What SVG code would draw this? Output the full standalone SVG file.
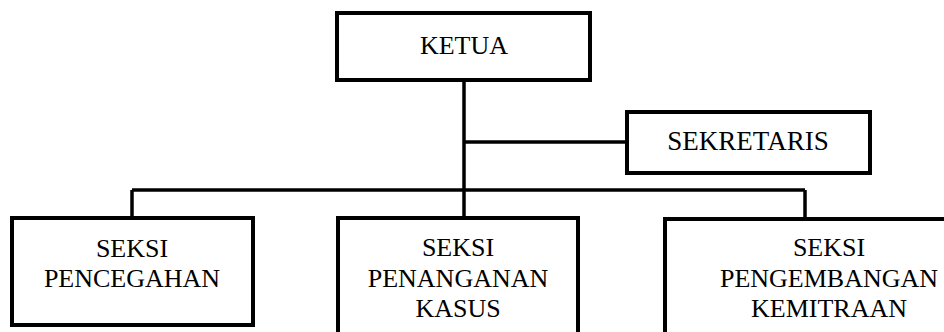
<svg xmlns="http://www.w3.org/2000/svg" width="944" height="332" viewBox="0 0 944 332">
<style>
.box{fill:#fff;stroke:#000;stroke-width:4}
.ln{fill:none;stroke:#000;stroke-width:3.5}
text{font-family:"Liberation Serif","Times New Roman",serif;font-size:26px;fill:#000;text-anchor:middle}
</style>
<rect width="944" height="332" fill="#fff"/>
<g id="connectors">
<path class="ln" d="M464 80 V218"/>
<path class="ln" d="M464 142 H627"/>
<path class="ln" d="M132 190 H805"/>
<path class="ln" d="M132 190 V218"/>
<path class="ln" d="M805 190 V219"/>
</g>
<g id="ketua">
<rect class="box" x="337" y="13" width="253" height="67"/>
<text x="464" y="54">KETUA</text>
</g>
<g id="sekretaris">
<rect class="box" x="627" y="112" width="243" height="61"/>
<text x="748" y="150" style="font-size:27px">SEKRETARIS</text>
</g>
<g id="pencegahan">
<rect class="box" x="12" y="218" width="241" height="107"/>
<text x="132" y="257">SEKSI</text>
<text x="132" y="287">PENCEGAHAN</text>
</g>
<g id="penanganan">
<path class="box" d="M338 336 V218 H578 V336"/>
<text x="458" y="256">SEKSI</text>
<text x="458" y="287">PENANGANAN</text>
<text x="458" y="317">KASUS</text>
</g>
<g id="pengembangan">
<path class="box" d="M665 336 V219 H950"/>
<text x="829" y="256">SEKSI</text>
<text x="829" y="287">PENGEMBANGAN</text>
<text x="829" y="317">KEMITRAAN</text>
</g>
</svg>
